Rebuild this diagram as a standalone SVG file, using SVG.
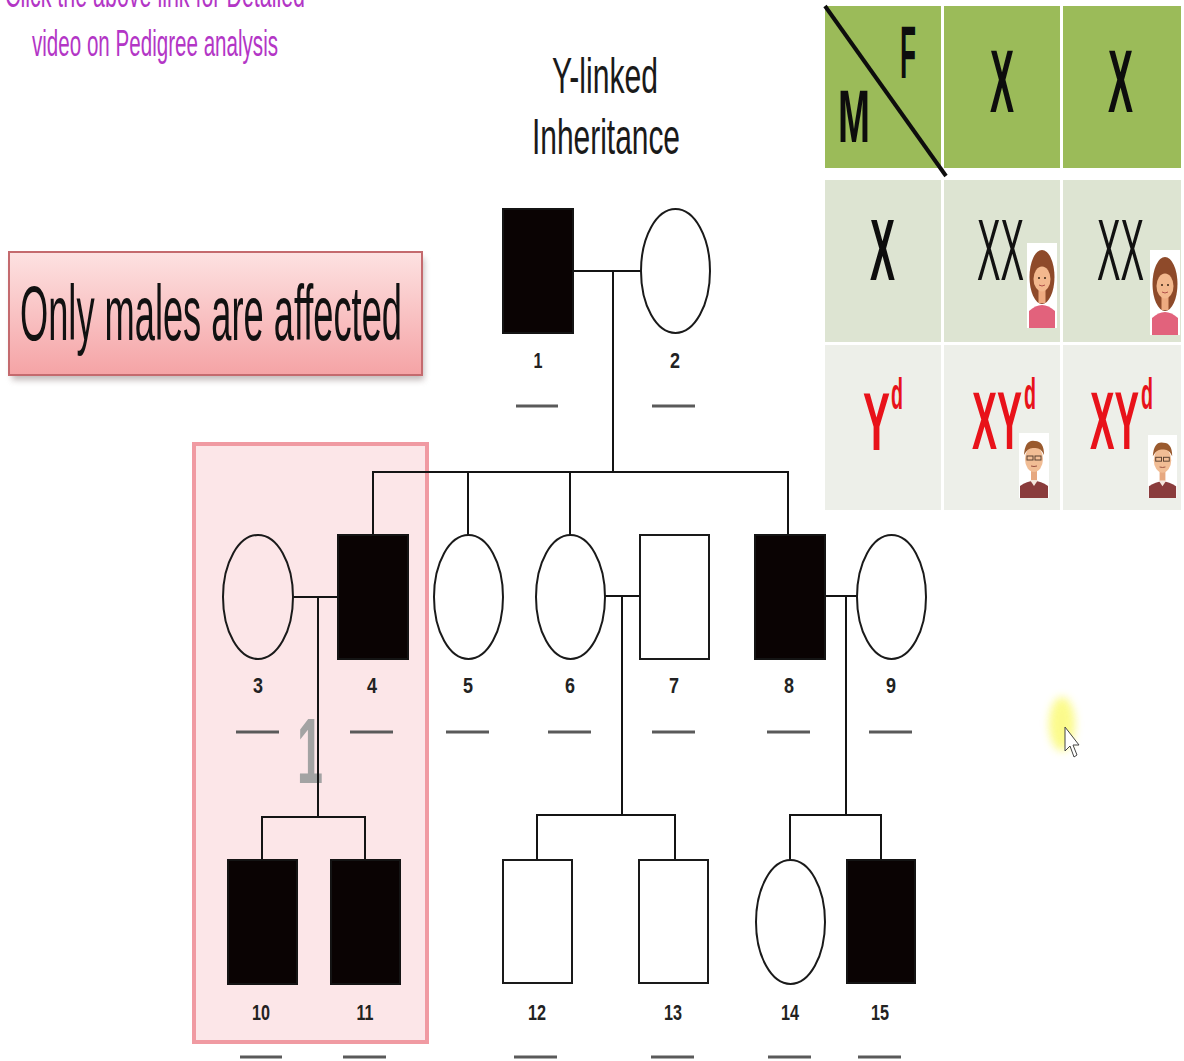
<svg xmlns="http://www.w3.org/2000/svg" width="1184" height="1061" viewBox="0 0 1184 1061">
  <defs>
    <style>
      .ln { stroke:#141414; stroke-width:2; fill:none; }
      .aff { fill:#0a0303; stroke:#141414; stroke-width:2; }
      .un { fill:none; stroke:#1a1a1a; stroke-width:2; }
      .lbl { font-family:"Liberation Sans", Arial, sans-serif; font-size:22px; font-weight:bold; text-anchor:middle; fill:#222; }
      .dash { stroke:#5a5a5a; stroke-width:3; }
      .title { font-family:"Liberation Sans", Arial, sans-serif; font-size:50px; fill:#1a1a1a; }
      .promo { font-family:"Liberation Sans", Arial, sans-serif; font-size:36px; fill:#b336c6; }
      .pbig { font-family:"Liberation Sans", Arial, sans-serif; font-weight:bold; fill:#0d0d0d; }
      .pthin { font-family:"Liberation Sans", Arial, sans-serif; fill:#111; }
      .pred { font-family:"Liberation Sans", Arial, sans-serif; font-weight:bold; fill:#e8121a; }
      .big { font-size:82px; }
      .sup { font-size:45px; }
    </style>
    <linearGradient id="pinkFill" x1="0" y1="0" x2="0" y2="1">
      <stop offset="0" stop-color="#fde2e2"/>
      <stop offset="1" stop-color="#f5a3a5"/>
    </linearGradient>
    <filter id="shadow" x="-10%" y="-20%" width="120%" height="150%">
      <feGaussianBlur stdDeviation="3"/>
    </filter>
    <filter id="glow" x="-50%" y="-50%" width="200%" height="200%">
      <feGaussianBlur stdDeviation="4"/>
    </filter>
    <!-- small cartoon portraits used in the Punnett square -->
    <symbol id="woman" viewBox="0 0 30 85">
      <rect x="0" y="0" width="30" height="85" fill="#ffffff"/>
      <ellipse cx="15" cy="34" rx="12.5" ry="27" fill="#8e4a2a"/>
      <rect x="11.5" y="44" width="7" height="16" fill="#eeaa80"/>
      <ellipse cx="15" cy="36" rx="8.5" ry="12.5" fill="#f3b88e"/>
      <circle cx="12" cy="35" r="1" fill="#3a2414"/>
      <circle cx="18" cy="35" r="1" fill="#3a2414"/>
      <path d="M12 42 Q15 44 18 42" stroke="#b0504a" stroke-width="1" fill="none"/>
      <path d="M2 85 L2 68 Q15 56 28 68 L28 85 Z" fill="#e2627c"/>
    </symbol>
    <symbol id="man" viewBox="0 0 30 65">
      <rect x="0" y="0" width="30" height="65" fill="#ffffff"/>
      <path d="M1 65 L1 53 Q15 43 29 53 L29 65 Z" fill="#8a3c3c"/>
      <path d="M11 47 L15 53 L19 47 Z" fill="#f4e6dc"/>
      <rect x="12" y="36" width="6" height="11" fill="#e6a880"/>
      <ellipse cx="15" cy="26" rx="9" ry="13" fill="#f1bd95"/>
      <path d="M5 22 Q6 6 16 8 Q25 8 25 22 Q22 14 15 15 Q9 14 5 22 Z" fill="#9a5a2e"/>
      <rect x="8" y="23" width="6" height="4" fill="none" stroke="#5a4030" stroke-width="1"/>
      <rect x="16" y="23" width="6" height="4" fill="none" stroke="#5a4030" stroke-width="1"/>
      <path d="M12 33 Q15 34 18 33" stroke="#9a5040" stroke-width="1" fill="none"/>
    </symbol>
  </defs>

  <rect x="0" y="0" width="1184" height="1061" fill="#ffffff"/>

  <!-- promo caption, top left (first line runs off the top edge) -->
  <g id="promo">
    <text class="promo" x="5" y="7" textLength="300" lengthAdjust="spacingAndGlyphs">Click the above link for Detailed</text>
    <text class="promo" x="32" y="56" textLength="246" lengthAdjust="spacingAndGlyphs">video on Pedigree analysis</text>
  </g>

  <!-- title -->
  <g id="title">
    <text class="title" x="552" y="93" textLength="106" lengthAdjust="spacingAndGlyphs">Y-linked</text>
    <text class="title" x="532" y="154" textLength="148" lengthAdjust="spacingAndGlyphs">Inheritance</text>
  </g>

  <!-- callout box -->
  <g id="callout">
    <rect x="12" y="258" width="412" height="122" fill="#9a8a8a" opacity="0.6" filter="url(#shadow)"/>
    <rect x="9" y="252" width="413" height="123" fill="url(#pinkFill)" stroke="#c46a6e" stroke-width="2"/>
    <text x="20" y="340" font-family="'Liberation Sans', Arial, sans-serif" font-size="78" fill="#111" textLength="382" lengthAdjust="spacingAndGlyphs">Only males are affected</text>
  </g>

  <!-- highlighted family 1 -->
  <g id="highlight-family-1">
    <rect x="194" y="444" width="233" height="598" fill="#fce6e8" stroke="#f09aa2" stroke-width="4"/>
    <text x="297" y="783" font-family="'Liberation Sans', Arial, sans-serif" font-size="92" font-weight="bold" fill="#a3a3a3" textLength="26" lengthAdjust="spacingAndGlyphs">1</text>
  </g>

  <!-- connectors -->
  <g id="connectors">
    <line class="ln" x1="573" y1="271" x2="641" y2="271"/>
    <line class="ln" x1="613" y1="271" x2="613" y2="472"/>
    <line class="ln" x1="372" y1="472" x2="789" y2="472"/>
    <line class="ln" x1="373" y1="472" x2="373" y2="535"/>
    <line class="ln" x1="468" y1="472" x2="468" y2="535"/>
    <line class="ln" x1="570" y1="472" x2="570" y2="535"/>
    <line class="ln" x1="788" y1="472" x2="788" y2="535"/>

    <line class="ln" x1="293" y1="597" x2="338" y2="597"/>
    <line class="ln" x1="318" y1="597" x2="318" y2="817"/>
    <line class="ln" x1="261" y1="817" x2="366" y2="817"/>
    <line class="ln" x1="262" y1="817" x2="262" y2="860"/>
    <line class="ln" x1="365" y1="817" x2="365" y2="860"/>

    <line class="ln" x1="605" y1="596" x2="640" y2="596"/>
    <line class="ln" x1="622" y1="596" x2="622" y2="815"/>
    <line class="ln" x1="536" y1="815" x2="676" y2="815"/>
    <line class="ln" x1="537" y1="815" x2="537" y2="860"/>
    <line class="ln" x1="675" y1="815" x2="675" y2="860"/>

    <line class="ln" x1="825" y1="596" x2="857" y2="596"/>
    <line class="ln" x1="846" y1="596" x2="846" y2="815"/>
    <line class="ln" x1="789" y1="815" x2="882" y2="815"/>
    <line class="ln" x1="790" y1="815" x2="790" y2="860"/>
    <line class="ln" x1="881" y1="815" x2="881" y2="860"/>
  </g>

  <!-- generation I -->
  <g id="node-1">
    <rect class="aff" x="503" y="209" width="70" height="124"/>
    <text class="lbl" x="538" y="368" textLength="9" lengthAdjust="spacingAndGlyphs">1</text>
    <line class="dash" x1="516" y1="406" x2="558" y2="406"/>
  </g>
  <g id="node-2">
    <ellipse class="un" cx="675.5" cy="271" rx="34.5" ry="62"/>
    <text class="lbl" x="675" y="368" textLength="10" lengthAdjust="spacingAndGlyphs">2</text>
    <line class="dash" x1="652" y1="406" x2="695" y2="406"/>
  </g>

  <!-- generation II -->
  <g id="node-3">
    <ellipse class="un" cx="258" cy="597" rx="35" ry="62"/>
    <text class="lbl" x="258" y="693" textLength="10" lengthAdjust="spacingAndGlyphs">3</text>
    <line class="dash" x1="236" y1="732" x2="279" y2="732"/>
  </g>
  <g id="node-4">
    <rect class="aff" x="338" y="535" width="70" height="124"/>
    <text class="lbl" x="372" y="693" textLength="10" lengthAdjust="spacingAndGlyphs">4</text>
    <line class="dash" x1="350" y1="732" x2="393" y2="732"/>
  </g>
  <g id="node-5">
    <ellipse class="un" cx="468.5" cy="597" rx="34.5" ry="62"/>
    <text class="lbl" x="468" y="693" textLength="10" lengthAdjust="spacingAndGlyphs">5</text>
    <line class="dash" x1="446" y1="732" x2="489" y2="732"/>
  </g>
  <g id="node-6">
    <ellipse class="un" cx="570.5" cy="597" rx="34.5" ry="62"/>
    <text class="lbl" x="570" y="693" textLength="10" lengthAdjust="spacingAndGlyphs">6</text>
    <line class="dash" x1="548" y1="732" x2="591" y2="732"/>
  </g>
  <g id="node-7">
    <rect class="un" x="640" y="535" width="69" height="124"/>
    <text class="lbl" x="674" y="693" textLength="10" lengthAdjust="spacingAndGlyphs">7</text>
    <line class="dash" x1="652" y1="732" x2="695" y2="732"/>
  </g>
  <g id="node-8">
    <rect class="aff" x="755" y="535" width="70" height="124"/>
    <text class="lbl" x="789" y="693" textLength="10" lengthAdjust="spacingAndGlyphs">8</text>
    <line class="dash" x1="767" y1="732" x2="810" y2="732"/>
  </g>
  <g id="node-9">
    <ellipse class="un" cx="891.5" cy="597" rx="34.5" ry="62"/>
    <text class="lbl" x="891" y="693" textLength="10" lengthAdjust="spacingAndGlyphs">9</text>
    <line class="dash" x1="869" y1="732" x2="912" y2="732"/>
  </g>

  <!-- generation III -->
  <g id="node-10">
    <rect class="aff" x="228" y="860" width="69" height="124"/>
    <text class="lbl" x="261" y="1020" textLength="18" lengthAdjust="spacingAndGlyphs">10</text>
    <line class="dash" x1="240" y1="1057" x2="282" y2="1057"/>
  </g>
  <g id="node-11">
    <rect class="aff" x="331" y="860" width="69" height="124"/>
    <text class="lbl" x="365" y="1020" textLength="17" lengthAdjust="spacingAndGlyphs">11</text>
    <line class="dash" x1="343" y1="1057" x2="386" y2="1057"/>
  </g>
  <g id="node-12">
    <rect class="un" x="503" y="860" width="69" height="123"/>
    <text class="lbl" x="537" y="1020" textLength="18" lengthAdjust="spacingAndGlyphs">12</text>
    <line class="dash" x1="514" y1="1057" x2="557" y2="1057"/>
  </g>
  <g id="node-13">
    <rect class="un" x="639" y="860" width="69" height="123"/>
    <text class="lbl" x="673" y="1020" textLength="18" lengthAdjust="spacingAndGlyphs">13</text>
    <line class="dash" x1="651" y1="1057" x2="694" y2="1057"/>
  </g>
  <g id="node-14">
    <ellipse class="un" cx="790.5" cy="922" rx="34.5" ry="62"/>
    <text class="lbl" x="790" y="1020" textLength="18" lengthAdjust="spacingAndGlyphs">14</text>
    <line class="dash" x1="768" y1="1057" x2="811" y2="1057"/>
  </g>
  <g id="node-15">
    <rect class="aff" x="847" y="860" width="68" height="123"/>
    <text class="lbl" x="880" y="1020" textLength="18" lengthAdjust="spacingAndGlyphs">15</text>
    <line class="dash" x1="858" y1="1057" x2="901" y2="1057"/>
  </g>

  <!-- Punnett square -->
  <g id="punnett">
    <rect x="825" y="6" width="116" height="162" fill="#9bbb59"/>
    <rect x="944" y="6" width="116" height="162" fill="#9bbb59"/>
    <rect x="1063" y="6" width="118" height="162" fill="#9bbb59"/>
    <rect x="825" y="180" width="116" height="162" fill="#dde4d2"/>
    <rect x="944" y="180" width="116" height="162" fill="#dde4d2"/>
    <rect x="1063" y="180" width="118" height="162" fill="#dde4d2"/>
    <rect x="825" y="345" width="116" height="165" fill="#edefe9"/>
    <rect x="944" y="345" width="116" height="165" fill="#edefe9"/>
    <rect x="1063" y="345" width="118" height="165" fill="#edefe9"/>
    <line x1="825" y1="6" x2="946" y2="176" stroke="#0d0d0d" stroke-width="4"/>

    <text class="pbig" x="900" y="78" font-size="74" textLength="16" lengthAdjust="spacingAndGlyphs">F</text>
    <text class="pbig" x="838" y="142" font-size="74" textLength="32" lengthAdjust="spacingAndGlyphs">M</text>
    <text class="pbig" x="990" y="112" font-size="89" textLength="24" lengthAdjust="spacingAndGlyphs">X</text>
    <text class="pbig" x="1108" y="112" font-size="89" textLength="25" lengthAdjust="spacingAndGlyphs">X</text>

    <text class="pbig" x="870" y="280" font-size="88" textLength="25" lengthAdjust="spacingAndGlyphs">X</text>
    <text class="pthin" x="977" y="280" font-size="88" textLength="47" lengthAdjust="spacingAndGlyphs">XX</text>
    <text class="pthin" x="1097" y="280" font-size="88" textLength="47" lengthAdjust="spacingAndGlyphs">XX</text>
    <use href="#woman" x="1027" y="243" width="30" height="85"/>
    <use href="#woman" x="1150" y="250" width="30" height="85"/>

    <!-- genotypes with superscript allele -->
    <text class="pred"><tspan class="big" x="863" y="450" textLength="27" lengthAdjust="spacingAndGlyphs">Y</tspan><tspan class="sup" x="891" y="409" textLength="12" lengthAdjust="spacingAndGlyphs">d</tspan></text>
    <text class="pred"><tspan class="big" x="972" y="449" textLength="50" lengthAdjust="spacingAndGlyphs">XY</tspan><tspan class="sup" x="1024" y="409" textLength="12" lengthAdjust="spacingAndGlyphs">d</tspan></text>
    <text class="pred"><tspan class="big" x="1090" y="449" textLength="49" lengthAdjust="spacingAndGlyphs">XY</tspan><tspan class="sup" x="1141" y="409" textLength="12" lengthAdjust="spacingAndGlyphs">d</tspan></text>
    <use href="#man" x="1018" y="433" width="32" height="65"/>
    <use href="#man" x="1147" y="435" width="31" height="63"/>
  </g>

  <!-- pointer highlight -->
  <g id="pointer">
    <ellipse cx="1062" cy="724" rx="13" ry="27" fill="#fbfa78" opacity="0.85" filter="url(#glow)"/>
    <path d="M1065 727 L1065 751 L1070 746 L1074 757 L1077 755 L1073 745 L1079 745 Z" fill="#ffffff" stroke="#444" stroke-width="1"/>
  </g>
</svg>
